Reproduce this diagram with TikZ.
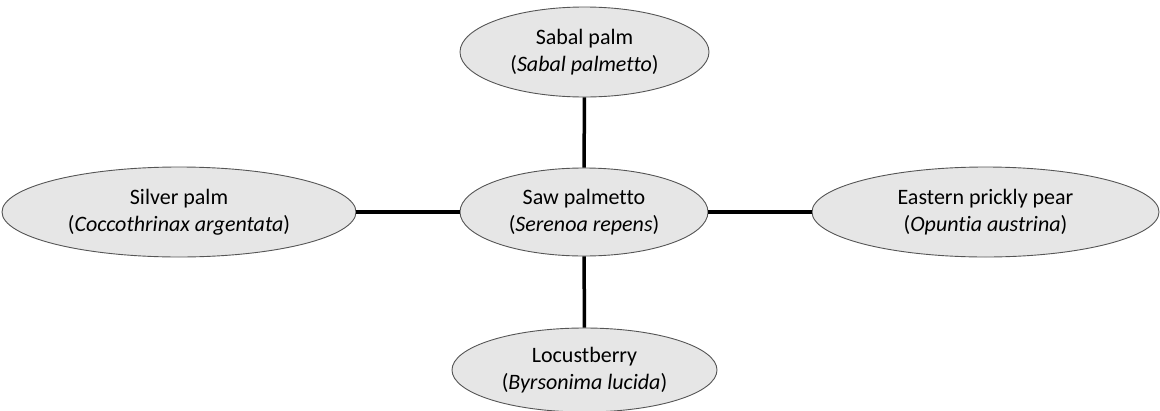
\documentclass[tikz,border=0pt]{standalone}
\usepackage{fontspec}
\setmainfont[Ligatures={NoCommon}]{Carlito}
\usetikzlibrary{shapes.geometric}
\definecolor{ellfill}{HTML}{E6E6E6}
\definecolor{elldraw}{HTML}{555555}
\begin{document}
\begin{tikzpicture}[x=1pt,y=-1pt,
  plant/.style={ellipse, draw=elldraw, line width=0.9pt, fill=ellfill, inner sep=0pt,
    align=center, font=\fontsize{22}{26.5}\selectfont},
  link/.style={line width=3.5pt, black}]
\useasboundingbox (0,0) rectangle (1160,410);
\node[plant, minimum width=249, minimum height=90] (top) at (584.5,52) {Sabal palm\\(\textit{Sabal palmetto})};
\node[plant, minimum width=248, minimum height=88] (mid) at (584,212) {Saw palmetto\\(\textit{Serenoa repens})};
\node[plant, minimum width=354, minimum height=90] (left) at (179,212) {Silver palm\\(\textit{Coccothrinax argentata})};
\node[plant, minimum width=347, minimum height=90] (right) at (985.5,212) {Eastern prickly pear\\(\textit{Opuntia austrina})};
\node[plant, minimum width=265, minimum height=84] (bot) at (584.5,370) {Locustberry\\(\textit{Byrsonima lucida})};
\draw[link] (top) -- (mid);
\draw[link] (mid) -- (bot);
\draw[link] (left) -- (mid);
\draw[link] (mid) -- (right);
\end{tikzpicture}
\end{document}
